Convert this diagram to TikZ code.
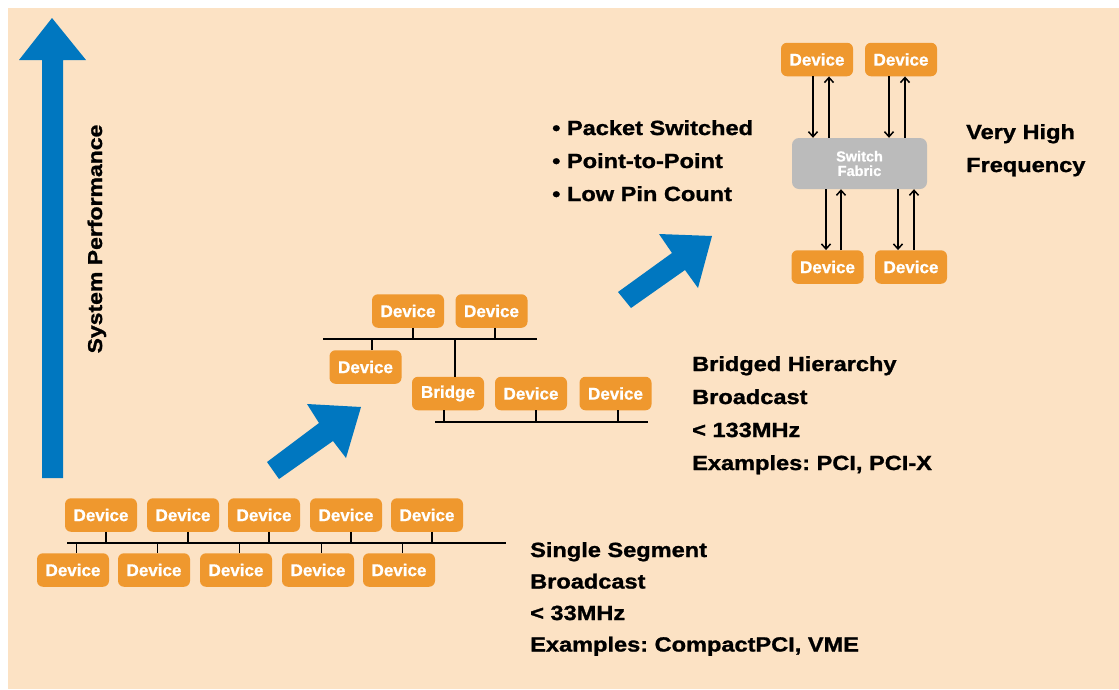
\documentclass[tikz,border=0pt]{standalone}
\usepackage{fontspec}
\setmainfont{Liberation Sans}
\newfontfamily\boxfont{Liberation Sans Bold}[FakeBold=0.8]
\newfontfamily\capfont{Liberation Sans Bold}[FakeStretch=1.15,FakeBold=1.2]
\usetikzlibrary{arrows.meta}
\definecolor{peach}{RGB}{252,226,196}
\definecolor{devorange}{RGB}{239,152,46}
\definecolor{perfblue}{RGB}{0,119,192}
\definecolor{fabricgray}{RGB}{187,187,187}
\frenchspacing
\begin{document}
\begin{tikzpicture}[x=1pt,y=-1pt,
  device/.style={rectangle, rounded corners=6pt, fill=devorange, text=white,
    minimum width=72pt, minimum height=33.5pt, inner sep=0pt,
    font=\boxfont\fontsize{17}{18}\selectfont},
  fabric/.style={rectangle, rounded corners=7pt, fill=fabricgray, text=white,
    minimum width=135pt, minimum height=51pt, inner sep=0pt, align=center,
    font=\boxfont\fontsize{14.5}{14.5}\selectfont},
  bus/.style={line width=1.8pt, black},
  link/.style={line width=1.5pt, -{Straight Barb[length=5pt,width=9pt]}},
  caption/.style={anchor=base west, inner sep=0pt, font=\capfont\fontsize{20.5}{24}\selectfont},
  bigarrow/.style={fill=perfblue, draw=none}]

% page and background panel
\useasboundingbox (0,0) rectangle (1119,689);
\fill[peach] (8,8) rectangle (1119,689);

% performance axis arrow
\fill[bigarrow] (52,18) -- (86,60) -- (63,60) -- (63,478) -- (42,478) -- (42,60) -- (19,60) -- cycle;
\node[rotate=90, anchor=base, inner sep=0pt, font=\capfont\fontsize{20}{24}\selectfont] (perf) at (102,239) {System Performance};

% step arrows
\fill[bigarrow] (267,462) -- (319,423) -- (307,404) -- (361,407) -- (346,458) -- (333,441) -- (279,479) -- cycle;
\fill[bigarrow] (618,292) -- (672,253) -- (659,234) -- (712,236) -- (698,288) -- (685,270) -- (631,308) -- cycle;

% ---------- single segment bus ----------
\coordinate (busAL) at (67,543);
\coordinate (busAR) at (506,543);
\foreach \i/\x in {1/101,2/183,3/264,4/346,5/427}
  \node[device] (t\i) at (\x,515) {Device};
\foreach \i/\x in {1/73,2/154,3/236,4/318,5/399}
  \node[device] (b\i) at (\x,570) {Device};
\draw[bus] (busAL) -- (busAR);
\foreach \i in {1,...,5}{
  \draw[bus] ([xshift=5pt]t\i.south) -- ([xshift=5pt]t\i.south |- busAL);
  \draw[bus] ([xshift=3.5pt]b\i.north) -- ([xshift=3.5pt]b\i.north |- busAL);
}

\node[caption] (s1) at (530,557) {Single Segment};
\node[caption] (s2) at (530,588.5) {Broadcast};
\node[caption] (s3) at (530,620) {< 33MHz};
\node[caption] (s4) at (530,651.5) {Examples: CompactPCI, VME};

% ---------- bridged hierarchy ----------
\coordinate (busBL) at (323,339);
\coordinate (busBR) at (537,339);
\coordinate (busCL) at (435,422);
\coordinate (busCR) at (648,422);
\node[device] (m1) at (408,311) {Device};
\node[device] (m2) at (491.5,311) {Device};
\node[device] (ml) at (365.5,367) {Device};
\node[device] (br) at (448,393.5) {Bridge};
\node[device] (m3) at (531,393.5) {Device};
\node[device] (m4) at (615.5,393.5) {Device};
\draw[bus] (busBL) -- (busBR);
\draw[bus] (busCL) -- (busCR);
\draw[bus] ([xshift=5pt]m1.south) -- ([xshift=5pt]m1.south |- busBL);
\draw[bus] ([xshift=3.5pt]m2.south) -- ([xshift=3.5pt]m2.south |- busBL);
\draw[bus] ([xshift=6.5pt]ml.north) -- ([xshift=6.5pt]ml.north |- busBL);
\draw[bus] ([xshift=7pt]br.north) -- ([xshift=7pt]br.north |- busBL);
\draw[bus] ([xshift=-4pt]br.south) -- ([xshift=-4pt]br.south |- busCL);
\draw[bus] ([xshift=5pt]m3.south) -- ([xshift=5pt]m3.south |- busCL);
\draw[bus] ([xshift=2.5pt]m4.south) -- ([xshift=2.5pt]m4.south |- busCL);

\node[caption] (h1) at (692,371) {Bridged Hierarchy};
\node[caption] (h2) at (692,404) {Broadcast};
\node[caption] (h3) at (692,437) {< 133MHz};
\node[caption] (h4) at (692,470) {Examples: PCI, PCI-X};

% ---------- switch fabric ----------
\node[device] (ftl) at (817,59.5) {Device};
\node[device] (ftr) at (901,59.5) {Device};
\node[fabric] (sw) at (859.5,163.5) {Switch\\Fabric};
\node[device] (fbl) at (827.5,267) {Device};
\node[device] (fbr) at (911,267) {Device};

\draw[link] ([xshift=-4pt]ftl.south) -- ([xshift=-4pt]ftl.south |- sw.north);
\draw[link] ([xshift=12pt]ftl.south |- sw.north) -- ([xshift=12pt]ftl.south);
\draw[link] ([xshift=-12pt]ftr.south) -- ([xshift=-12pt]ftr.south |- sw.north);
\draw[link] ([xshift=4pt]ftr.south |- sw.north) -- ([xshift=4pt]ftr.south);
\draw[link] ([xshift=-1.5pt]fbl.north |- sw.south) -- ([xshift=-1.5pt]fbl.north);
\draw[link] ([xshift=13.5pt]fbl.north) -- ([xshift=13.5pt]fbl.north |- sw.south);
\draw[link] ([xshift=-13pt]fbr.north |- sw.south) -- ([xshift=-13pt]fbr.north);
\draw[link] ([xshift=3pt]fbr.north) -- ([xshift=3pt]fbr.north |- sw.south);

\node[caption] (p1) at (552,135) {• Packet Switched};
\node[caption] (p2) at (552,168) {• Point-to-Point};
\node[caption] (p3) at (552,201) {• Low Pin Count};

\node[caption] (v1) at (966,139) {Very High};
\node[caption] (v2) at (966,172) {Frequency};
\end{tikzpicture}
\end{document}
